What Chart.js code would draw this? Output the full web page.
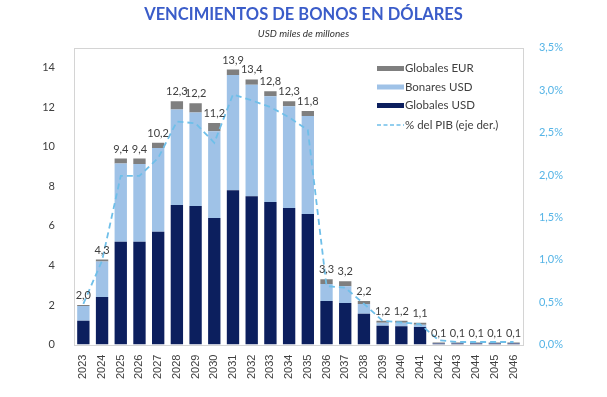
<!DOCTYPE html>
<html>
<head>
<meta charset="utf-8">
<script src="https://cdn.jsdelivr.net/npm/chart.js@4"></script>
<style>
  body { margin: 0; background: #fff; }
</style>
</head>
<body>
<canvas id="bonosChart" width="607" height="397"></canvas>
<script>
const years = ['2023','2024','2025','2026','2027','2028','2029','2030','2031','2032','2033','2034',
  '2035','2036','2037','2038','2039','2040','2041','2042','2043','2044','2045','2046'];
const globalesUsd = [1.2,2.4,5.2,5.2,5.7,7.05,7.0,6.4,7.8,7.5,7.2,6.9,6.6,2.2,2.1,1.55,0.95,0.92,0.88,0.05,0.05,0.05,0.05,0.05];
const bonaresUsd = [0.75,1.8,3.95,3.93,4.23,4.83,4.73,4.38,5.83,5.63,5.35,5.15,4.95,0.86,0.85,0.5,0.15,0.18,0.12,0.02,0.02,0.02,0.02,0.02];
const globalesEur = [0.05,0.1,0.25,0.27,0.27,0.42,0.47,0.42,0.27,0.27,0.25,0.25,0.25,0.24,0.25,0.15,0.1,0.1,0.1,0.03,0.03,0.03,0.03,0.03];
const totals = [2.0,4.3,9.4,9.4,10.2,12.3,12.2,11.2,13.9,13.4,12.8,12.3,11.8,3.3,3.2,2.2,1.2,1.2,1.1,0.1,0.1,0.1,0.1,0.1];
const pibPct = [0.48,0.99,1.99,1.99,2.2,2.63,2.61,2.38,2.95,2.88,2.8,2.68,2.53,0.69,0.67,0.48,0.28,0.26,0.24,0.05,0.03,0.03,0.03,0.03];

const DARK = '#0c1f5e';
const LIGHT = '#9fc2e7';
const GREY = '#7f7f7f';
const LINE = '#6fbfe9';
const TEXT = '#404040';

const comma = (v, d) => v.toFixed(d).replace('.', ',');

// marco gris alrededor del area del grafico
const frame = {
  id: 'frame',
  beforeDatasetsDraw(chart) {
    const { ctx, chartArea: a } = chart;
    ctx.save();
    ctx.strokeStyle = '#d4d4d4';
    ctx.lineWidth = 1;
    ctx.strokeRect(Math.round(a.left) + 0.5, Math.round(a.top) + 0.5,
      Math.round(a.right - a.left), Math.round(a.bottom - a.top));
    ctx.restore();
  }
};

// totales encima de cada barra
const totalLabels = {
  id: 'totalLabels',
  afterDatasetsDraw(chart) {
    const { ctx, scales } = chart;
    ctx.save();
    ctx.font = '11px Lato';
    ctx.fillStyle = TEXT;
    ctx.textAlign = 'center';
    ctx.textBaseline = 'bottom';
    totals.forEach((t, i) => {
      const x = scales.x.getPixelForValue(i);
      const y = scales.y.getPixelForValue(t);
      ctx.fillText(comma(t, 1), x, y - 4);
    });
    ctx.restore();
  }
};

// leyenda dentro del grafico, arriba a la derecha
const insideLegend = {
  id: 'insideLegend',
  afterDraw(chart) {
    const { ctx } = chart;
    const items = [
      { label: 'Globales EUR', color: GREY },
      { label: 'Bonares USD', color: LIGHT },
      { label: 'Globales USD', color: DARK },
      { label: '% del PIB (eje der.)', color: LINE, dashed: true }
    ];
    const x0 = 377, rowY = [68.5, 87, 105.5, 125];
    ctx.save();
    ctx.font = '11.5px Lato';
    ctx.textBaseline = 'middle';
    items.forEach((it, i) => {
      const y = rowY[i];
      if (it.dashed) {
        ctx.strokeStyle = it.color;
        ctx.lineWidth = 1.5;
        ctx.setLineDash([4, 2.5]);
        ctx.beginPath();
        ctx.moveTo(x0, y);
        ctx.lineTo(x0 + 27, y);
        ctx.stroke();
        ctx.setLineDash([]);
      } else {
        ctx.fillStyle = it.color;
        ctx.fillRect(x0, y - 2.5, 27, 5);
      }
      ctx.fillStyle = TEXT;
      ctx.fillText(it.label, x0 + 28, y);
    });
    ctx.restore();
  }
};

new Chart(document.getElementById('bonosChart'), {
  type: 'bar',
  data: {
    labels: years,
    datasets: [
      { type: 'line', label: '% del PIB (eje der.)', data: pibPct, yAxisID: 'y1',
        borderColor: LINE, borderWidth: 1.8, borderDash: [6, 4], pointRadius: 0,
        fill: false, tension: 0, order: 0 },
      { label: 'Globales USD', data: globalesUsd, backgroundColor: DARK, order: 1 },
      { label: 'Bonares USD', data: bonaresUsd, backgroundColor: LIGHT, order: 1 },
      { label: 'Globales EUR', data: globalesEur, backgroundColor: GREY, order: 1 }
    ]
  },
  options: {
    responsive: false,
    animation: false,
    devicePixelRatio: 1,
    layout: { padding: { left: 36, right: 36, bottom: 16 } },
    datasets: { bar: { barPercentage: 0.66, categoryPercentage: 1 } },
    plugins: {
      legend: { display: false },
      tooltip: { enabled: false },
      title: {
        display: true,
        text: 'VENCIMIENTOS DE BONOS EN DÓLARES',
        color: '#3a5cc9',
        font: { family: 'Lato', size: 16.5, weight: 'bold' },
        padding: { top: 5, bottom: 2 }
      },
      subtitle: {
        display: true,
        text: 'USD miles de millones',
        color: '#333',
        font: { family: 'Lato', size: 10, style: 'italic' },
        padding: { top: 1, bottom: 8 }
      }
    },
    scales: {
      x: {
        stacked: true,
        grid: { display: false },
        border: { display: false },
        ticks: {
          color: TEXT, minRotation: 90, maxRotation: 90, padding: 2,
          font: { family: 'Liberation Sans', size: 11 }
        }
      },
      y: {
        stacked: true,
        min: 0, max: 15,
        grid: { display: false },
        border: { display: false },
        afterBuildTicks: axis => { axis.ticks = axis.ticks.filter(t => t.value <= 14 && t.value % 2 === 0); },
        afterFit: axis => { axis.width = 38; },
        ticks: { stepSize: 2, color: TEXT, padding: 11, font: { family: 'Lato', size: 11 } }
      },
      y1: {
        position: 'right',
        min: 0, max: 3.5,
        grid: { display: false },
        border: { display: false },
        ticks: {
          stepSize: 0.5, color: '#55b4e6', padding: 8,
          font: { family: 'Lato', size: 11 },
          callback: v => comma(v, 1) + '%'
        }
      }
    }
  },
  plugins: [frame, totalLabels, insideLegend]
});
</script>
</body>
</html>
